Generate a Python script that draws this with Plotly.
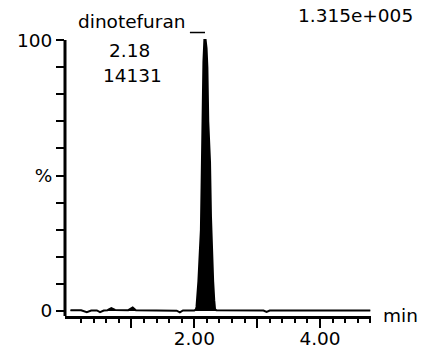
import plotly.graph_objects as go

# Chromatogram (retention time in min, relative intensity in %)
time_min = [0.03, 0.20, 0.29, 0.36, 0.45, 0.50, 0.56, 0.62, 0.68, 0.74, 0.95, 1.02, 1.07,
            1.50, 1.72, 1.77, 1.82, 2.00, 2.025, 2.035, 2.045, 2.065, 2.09, 2.105, 2.115,
            2.125, 2.135, 2.145, 2.16, 2.18, 2.195, 2.208, 2.222, 2.25, 2.265, 2.277,
            2.30, 2.317, 2.33, 2.35, 3.10, 3.15, 3.20, 4.80]
intensity_pct = [0.3, 0.3, -0.4, 0.2, 0.2, -0.4, 0.2, 0.3, 1.1, 0.4, 0.3, 1.3, 0.3,
                 0.2, 0.1, -0.5, 0.2, 0.2, 0.6, 1.5, 4.0, 11.0, 23.0, 30.0, 45.0,
                 63.0, 75.0, 92.0, 100.0, 100.0, 97.0, 90.0, 70.0, 55.0, 35.0, 23.0,
                 11.0, 4.0, 0.6, 0.3, 0.2, -0.3, 0.2, 0.2]

peak_name = "dinotefuran"
peak_rt = "2.18"
peak_area = "14131"
full_scale = "1.315e+005"

x_major = [1, 2, 3, 4]
x_major_text = ["", "2.00", "", "4.00"]
x_minor = [0.2, 0.4, 0.6, 0.8, 1.2, 1.4, 1.6, 1.8, 2.2, 2.4, 2.6, 2.8,
           3.2, 3.4, 3.6, 3.8, 4.2, 4.4, 4.6, 4.8]
y_ticks = [0, 10, 20, 30, 40, 50, 60, 70, 80, 90, 100]
y_tick_text = ["0", "", "", "", "", "%", "", "", "", "", "100"]

FONT = "DejaVu Sans"
FS = 18.5
Y_LO, Y_HI = -1.845, 114.8

fig = go.Figure()
fig.add_trace(go.Scatter(
    x=time_min, y=intensity_pct, mode="lines",
    line=dict(color="black", width=2),
    fill="tozeroy", fillcolor="black",
    hoverinfo="skip", showlegend=False))

# y axis line (stops at 100)
fig.add_shape(type="line", xref="paper", yref="y", x0=0, x1=0, y0=Y_LO, y1=100,
              line=dict(color="black", width=3))
# leader line from the peak label to the apex
fig.add_shape(type="line", xref="x", yref="y", x0=1.93, x1=2.17, y0=102.8, y1=102.8,
              line=dict(color="black", width=1.5))

ann_font = dict(family=FONT, size=FS, color="black")
fig.add_annotation(x=1.003, y=106.8, xref="x", yref="y", text=peak_name,
                   showarrow=False, font=ann_font, xanchor="center", yanchor="middle")
fig.add_annotation(x=0.963, y=96.3, xref="x", yref="y", text=peak_rt,
                   showarrow=False, font=ann_font, xanchor="center", yanchor="middle")
fig.add_annotation(x=1.019, y=87.1, xref="x", yref="y", text=peak_area,
                   showarrow=False, font=ann_font, xanchor="center", yanchor="middle")
fig.add_annotation(x=4.565, y=108.9, xref="x", yref="y", text=full_scale,
                   showarrow=False, font=ann_font, xanchor="center", yanchor="middle")
fig.add_annotation(x=1, y=-1.5, xref="paper", yref="y", text="min", xshift=10,
                   showarrow=False, font=ann_font, xanchor="left", yanchor="middle")

fig.update_layout(
    width=421, height=348,
    margin=dict(l=65, r=50, t=0, b=32, autoexpand=False),
    paper_bgcolor="white", plot_bgcolor="white",
    font=dict(family=FONT, size=FS, color="black"),
    xaxis=dict(range=[-0.057, 4.811], showgrid=False, zeroline=False,
               showline=True, linecolor="black", linewidth=3,
               tickmode="array", tickvals=x_major, ticktext=x_major_text,
               ticks="outside", ticklen=9, tickwidth=2, tickcolor="black",
               ticklabelstandoff=-5, automargin=False,
               tickfont=dict(family=FONT, size=FS, color="black"),
               minor=dict(tickmode="array", tickvals=x_minor, ticks="outside",
                          ticklen=4, tickwidth=2, tickcolor="black", showgrid=False)),
    yaxis=dict(range=[Y_LO, Y_HI], showgrid=False, zeroline=False, showline=False,
               tickmode="array", tickvals=y_ticks, ticktext=y_tick_text,
               ticks="outside", ticklen=8, tickwidth=2, tickcolor="black",
               automargin=False,
               tickfont=dict(family=FONT, size=FS, color="black")),
)

fig.write_html(
    "out.html",
    config={"displayModeBar": False, "staticPlot": True},
    post_script="document.body.style.margin='0';document.body.style.overflow='hidden';",
)
